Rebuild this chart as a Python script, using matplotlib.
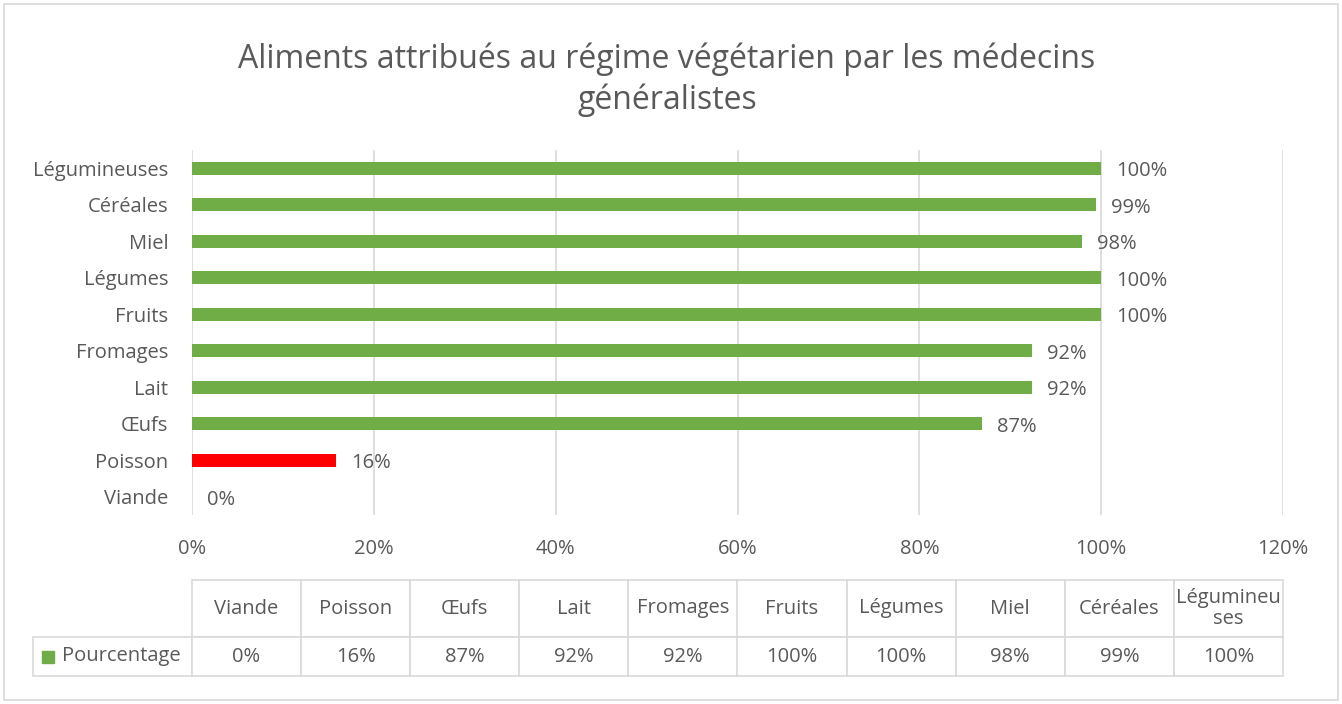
import matplotlib.pyplot as plt
from matplotlib.patches import Rectangle

plt.rcParams['font.family'] = ['Open Sans', 'DejaVu Sans']

# données (ordre du tableau, de bas en haut sur le graphique)
categories = ["Viande", "Poisson", "Œufs", "Lait", "Fromages",
              "Fruits", "Légumes", "Miel", "Céréales", "Légumineuses"]
pourcentage = [0, 15.8, 86.9, 92.4, 92.4, 100, 100, 97.9, 99.4, 100]
labels = ["0%", "16%", "87%", "92%", "92%", "100%", "100%", "98%", "99%", "100%"]
entetes = ["Viande", "Poisson", "Œufs", "Lait", "Fromages", "Fruits",
           "Légumes", "Miel", "Céréales", "Légumineu\nses"]
couleurs = ["#70ad47", "#ff0000"] + ["#70ad47"] * 8

gris = "#595959"
grille = "#d9d9d9"
fs = 14.5

fig = plt.figure(figsize=(13.42, 7.04), dpi=100)
W, H = 1342, 704
# axe principal : 0% a x=192, 120% a x=1283, haut 150, bas 515
ax = fig.add_axes([192 / W, 1 - 515 / H, (1283 - 192) / W, (515 - 150) / H])

y = list(range(len(categories)))
ax.barh(y, pourcentage, height=0.36, color=couleurs, linewidth=0)

for yi, v, lab in zip(y, pourcentage, labels):
    ax.annotate(lab, (v, yi), xytext=(11, -2), textcoords="offset points",
                ha="left", va="center", fontsize=fs, color=gris)

ax.set_xlim(0, 120)
ax.set_ylim(-0.5, len(categories) - 0.5)
ax.set_xticks(range(0, 121, 20))
ax.set_xticklabels([f"{t}%" for t in range(0, 121, 20)])
ax.set_yticks(y)
ax.set_yticklabels(categories)
ax.tick_params(axis="y", length=0, pad=17, labelsize=fs, labelcolor=gris)
ax.tick_params(axis="x", length=0, pad=17, labelsize=fs, labelcolor=gris)
ax.grid(axis="x", color=grille, linewidth=1.2)
ax.set_axisbelow(True)
for s in ax.spines.values():
    s.set_visible(False)

# tableau de donnees sous le graphique
cell_text = [[""] + entetes, ["Pourcentage"] + labels]
tab = ax.table(cellText=cell_text, cellLoc="center",
               bbox=[(33 - 192) / 1091, (515 - 676) / 365, (1283 - 33) / 1091, (676 - 580) / 365])
tab.auto_set_font_size(False)
tab.set_fontsize(fs)
for (r, c), cell in tab.get_celld().items():
    cell.set_edgecolor(grille)
    cell.set_linewidth(1.2)
    cell.get_text().set_color(gris)
    cell.set_width(159 if c == 0 else 109.1)
    cell.set_height(57 if r == 0 else 39)
    if r == 0 and c == 0:
        cell.visible_edges = ""
    if r == 0 and c == len(entetes):
        cell.get_text().set_linespacing(1.05)
tab[1, 0].get_text().set_ha("left")
tab[1, 0].PAD = 0.18

# cle de legende
fig.patches.append(Rectangle((42 / W, 1 - 663 / H), 12 / W, 12 / H,
                             transform=fig.transFigure, color="#70ad47"))

fig.text(0.497, 1 - 80 / H, "Aliments attribués au régime végétarien par les médecins\ngénéralistes",
         ha="center", va="center", fontsize=23, color=gris, linespacing=1.3)

fig.patches.append(Rectangle((0.003, 0.005), 0.994, 0.99, transform=fig.transFigure,
                             fill=False, edgecolor=grille, linewidth=1.2))

fig.savefig("out.png", dpi=100)
